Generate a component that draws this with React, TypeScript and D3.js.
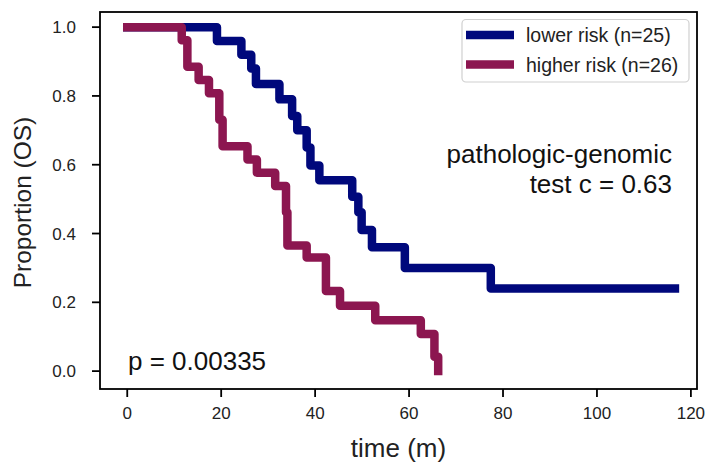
import React from 'react';
import * as d3 from 'd3';

// survival steps (time in months, proportion after drop)
const lowerTimes = [0, 19.1, 24.3, 26.4, 27.4, 32.4, 35.1, 36.2, 38.2, 39.0, 40.9, 47.9, 49.2, 49.9, 52.1, 59.1, 77.4, 116.6];
const lowerSurv = [1.0, 0.96, 0.92, 0.88, 0.835, 0.79, 0.742, 0.70, 0.65, 0.598, 0.555, 0.507, 0.462, 0.41, 0.36, 0.30, 0.24, 0.24];

const higherTimes = [0, 11.6, 12.8, 15.2, 17.4, 19.6, 20.3, 25.6, 27.6, 31.5, 33.8, 34.1, 38.2, 42.3, 45.3, 52.8, 62.5, 65.4, 66.2];
const higherSurv = [1.0, 0.962, 0.885, 0.846, 0.808, 0.731, 0.654, 0.615, 0.577, 0.538, 0.462, 0.365, 0.33, 0.233, 0.19, 0.148, 0.108, 0.042, 0.0];

const xTicks = [0, 20, 40, 60, 80, 100, 120];
const yTicks = [0.0, 0.2, 0.4, 0.6, 0.8, 1.0];

const seriesNames = ['lower risk (n=25)', 'higher risk (n=26)'];
const seriesColors = ['#00087c', '#8c1650'];

const W = 708;
const H = 466;
const left = 100, right = 697, top = 12, bottom = 389;
const font = '"Liberation Sans", Arial, sans-serif';

const App = () => {
	const x = d3.scaleLinear().domain([-5.8, 121.3]).range([left, right]);
	const y = d3.scaleLinear().domain([-0.052, 1.044]).range([bottom, top]);

	const line = d3.line<[number, number]>()
		.x(d => x(d[0]))
		.y(d => y(d[1]))
		.curve(d3.curveStepAfter);

	const lowerPts = lowerTimes.map((t, i) => [t, lowerSurv[i]] as [number, number]);
	const higherPts = higherTimes.map((t, i) => [t, higherSurv[i]] as [number, number]);
	const curves = [lowerPts, higherPts];

	return (
		<svg width={W} height={H} style={{ position: 'absolute', left: 0, top: 0 }} fontFamily={font}>
			<rect x={0} y={0} width={W} height={H} fill="#fff" />

			{curves.map((pts, i) => (
				<path key={i} d={line(pts) || ''} fill="none" stroke={seriesColors[i]}
					strokeWidth={8.5} strokeLinecap="square" strokeLinejoin="round" />
			))}

			{/* frame */}
			<rect x={left} y={top} width={right - left} height={bottom - top} fill="none" stroke="#000" strokeWidth={1.8} />

			{/* x axis */}
			{xTicks.map(t => (
				<g key={'x' + t} transform={`translate(${x(t)},${bottom})`}>
					<line y1={0} y2={8} stroke="#000" strokeWidth={1.8} />
					<text y={30} textAnchor="middle" fontSize={17} fill="#222">{t}</text>
				</g>
			))}
			<text x={(left + right) / 2} y={457} textAnchor="middle" fontSize={26} fill="#222">time (m)</text>

			{/* y axis */}
			{yTicks.map(t => (
				<g key={'y' + t} transform={`translate(${left},${y(t)})`}>
					<line x1={0} x2={-8} stroke="#000" strokeWidth={1.8} />
					<text x={-24} dy={6} textAnchor="end" fontSize={17} fill="#222">{t.toFixed(1)}</text>
				</g>
			))}
			<text transform={`translate(31,${(top + bottom) / 2 + 2}) rotate(-90)`} textAnchor="middle" fontSize={24.5} fill="#222">Proportion (OS)</text>

			{/* annotations */}
			<text x={672} y={163} textAnchor="end" fontSize={26} fill="#111">pathologic-genomic</text>
			<text x={672} y={193} textAnchor="end" fontSize={26} fill="#111">test c = 0.63</text>
			<text x={128} y={370} fontSize={26} fill="#111">p = 0.00335</text>

			{/* legend */}
			<rect x={462} y={19.5} width={227} height={62.5} rx={4} fill="#fff" fillOpacity={0.8} stroke="#d0d0d0" strokeWidth={1.2} />
			{seriesNames.map((name, i) => (
				<g key={name} transform={`translate(466,${35 + i * 29.5})`}>
					<line x1={0} x2={48} stroke={seriesColors[i]} strokeWidth={8.5} />
					<text x={60} dy={7} fontSize={19.5} fill="#222">{name}</text>
				</g>
			))}
		</svg>
	);
};

export default App;
